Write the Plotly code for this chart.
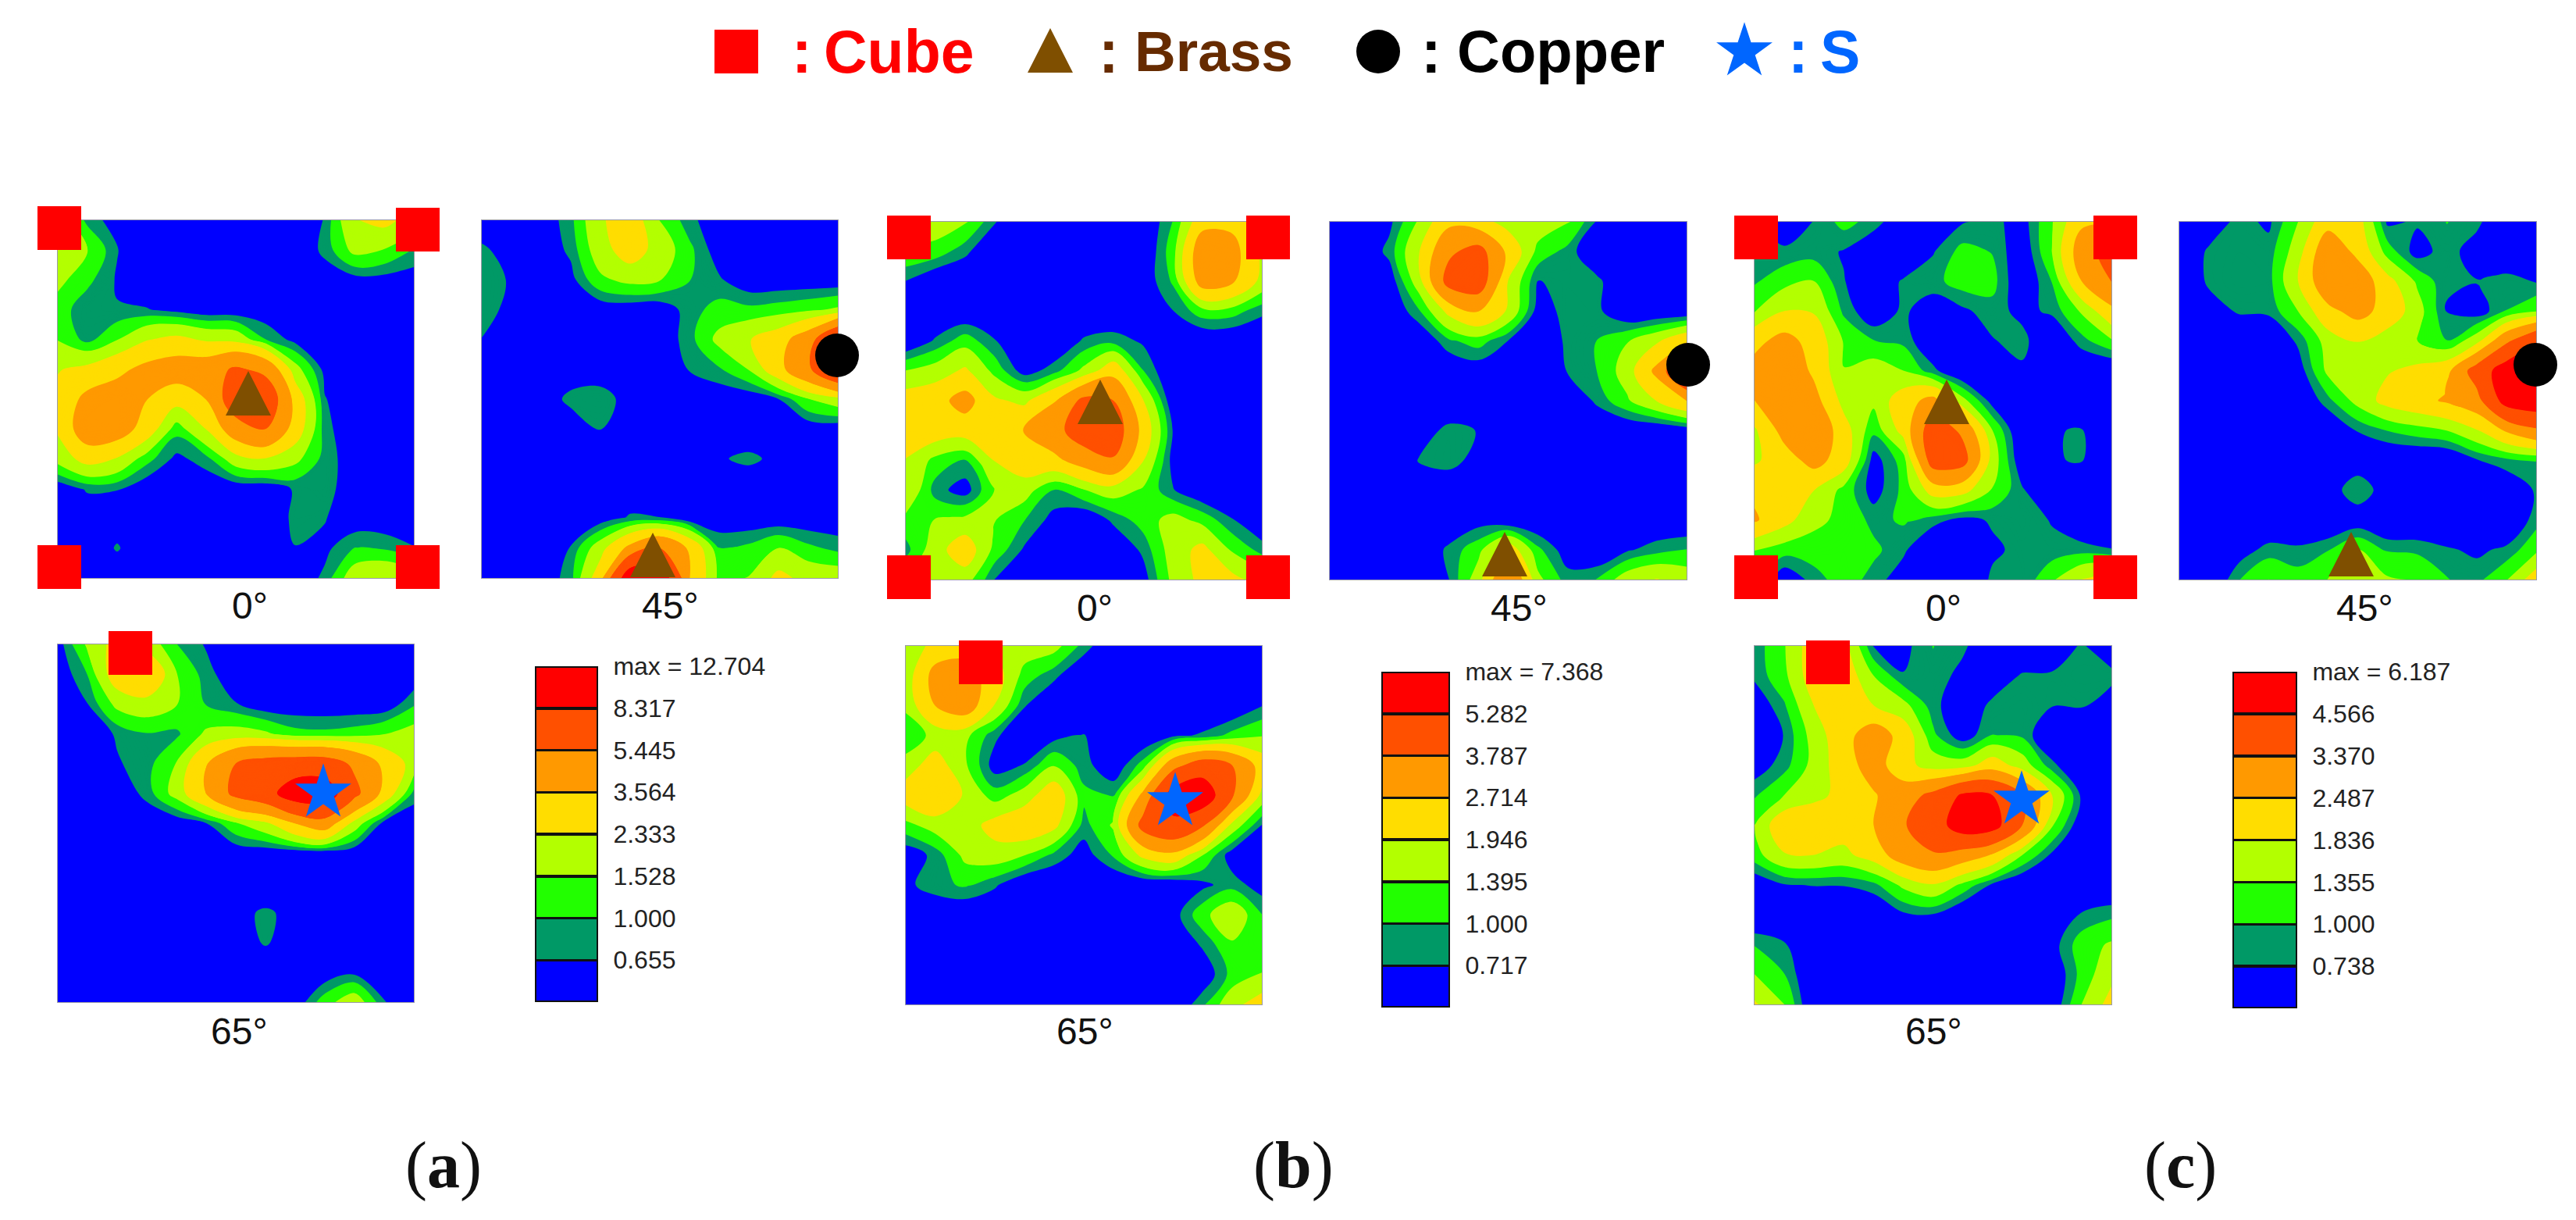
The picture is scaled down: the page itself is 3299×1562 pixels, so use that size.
import numpy as np
import plotly.graph_objects as go

W, H = 3299, 1562

# Band index of the pole-figure value at each grid node (top row first).
# Bands: 0 blue, 1 teal, 2 green, 3 lime, 4 yellow, 5 orange, 6 orange-red, 7 red
A0 = [
[3.5,1.6,0.3,0,0,0,0,0,0,1.0,3.9,4.2,3.5],
[4.0,3.0,1.0,0,0,0,0,0,0,1.2,3.2,2.9,1.8],
[3.2,2.2,0.8,0,0,0,0,0,0,0.3,0.4,0.4,0.3],
[2.4,1.2,1.0,1.0,0.5,0,0,0,0,0,0,0,0],
[2.9,1.5,2.9,3.9,4.2,3.8,3.6,2.0,0.5,0,0,0,0],
[3.9,4.2,4.7,5.2,5.4,5.5,6.1,5.7,3.3,0.5,0,0,0],
[4.2,5.2,5.4,5.0,4.3,5.0,6.5,6.6,4.6,1.0,0,0,0],
[4.1,5.5,5.4,4.5,2.3,4.0,5.5,6.0,4.5,1.3,0,0,0],
[3.3,4.3,3.9,2.3,0.6,1.5,3.5,3.9,3.2,1.5,0.2,0,0],
[0,1.1,1.0,0,0,0,0,0,1.1,1.5,0,0,0],
[0,0,0.3,0,0,0,0,0,1.2,1.0,0,0,0],
[0,0,1.05,0,0,0,0,0.5,0.9,0.6,2,1.8,1],
[0,0,0,0,0,0,0,0,0,1.2,3.5,3.9,3.5],
]
A45 = [
[0,0,0,1.6,3.8,4.5,2.9,1.3,0,0,0,0,0],
[1.2,0.3,0,1.2,3.5,4.4,3.5,2.2,0.2,0,0,0,0],
[1.5,0.8,0,0.5,2.7,3.2,3.0,2.0,1.1,0,0,0,0],
[1.4,0.6,0,0,0,0,0,1.5,2.3,2.2,2.4,2.7,3.1],
[0.9,0,0,0,0,0,0,1.5,3.2,3.9,4.5,5.5,7.0],
[0,0,0,0.3,0.3,0,0,1.0,1.8,3.0,4.6,5.8,7.0],
[0,0,0.3,1.2,1.4,0.5,0,0,0,0,0.9,2.9,3.5],
[0,0,0,0.3,0.95,0,0,0,0,0,0,0,0],
[0,0,0,0,0,0,0,0,0.8,1.2,0.6,0,0],
[0,0,0,0,0,0,0,0,0,0,0,0,0],
[0,0,0,0,0.2,1.1,1.0,0,0,0,0,0,0],
[0,0,0,1.0,3.5,5.2,6.0,4.8,2.0,2.2,3.0,2.2,1.6],
[0,0,0,1.5,4.5,7.5,7.5,5.0,2.6,3.0,4.2,3.6,3.5],
]
A65 = [
[0.3,3.1,4.3,3.5,2.0,0.8,0,0,0,0,0,0,0],
[0,2.0,4.5,5.0,3.0,1.4,0,0,0,0,0,0,0],
[0,0.9,3.2,3.5,3.0,1.9,1.0,0,0,0,0,0,1.8],
[0,0,1.1,1.9,1.7,3.1,3.3,3.1,2.3,2.2,2.4,2.9,3.3],
[0,0,0.8,1.5,3.0,4.9,6.0,6.3,6.4,6.4,5.8,4.7,3.5],
[0,0,0,1.3,3.3,5.0,6.2,6.6,7.4,7.4,6.2,4.6,1.5],
[0,0,0,0,0,0.9,2.8,3.7,5.0,5.5,3.5,0.4,0],
[0,0,0,0,0,0,0,0,0,0,0,0,0],
[0,0,0,0,0,0,0,0,0,0,0,0,0],
[0,0,0,0,0,0,0.6,1.1,0.6,0,0,0,0],
[0,0,0,0,0,0,0.3,1.05,0.3,0,0,0,0],
[0,0,0,0,0,0,0,0,0,0,0.6,0,0],
[0,0,0,0,0,0,0,0,0,2.5,3.5,1.0,0],
]
B0 = [
[3.5,3.5,3.1,1.0,0,0,0,0,0,2.0,4.6,4.7,4.0],
[2.8,2.5,1.2,0,0,0,0,0,0,2.5,5.6,5.3,3.8],
[0.9,0,0,0,0,0,0,0,0.3,2.1,5.4,5.1,3.6],
[0,0,0,0,0,0,0,0,0,0.9,2.5,2.4,1.2],
[0,1.1,2.5,1.0,0,0,1.1,1.5,0.8,0,0,0,0],
[3.0,3.4,4.1,2.6,0.5,1.5,3.2,4.6,2.0,0,0,0,0],
[4.4,4.6,5.3,4.1,3.7,4.9,6.2,6.0,4.0,0.2,0,0,0],
[4.5,4.5,4.4,4.6,5.0,5.6,6.5,6.5,4.6,0.9,0,0,0],
[3.9,2.6,1.9,4.0,4.5,4.7,5.4,5.9,4.0,0.6,0,0,0],
[3.9,1.4,0.5,3.0,3.4,1.8,2.9,3.4,2.8,1.0,0,0,0],
[2.6,3.0,3.2,3.0,2.0,0.6,0,1.2,2.4,3.3,2.6,1.0,0],
[1.5,3.5,4.5,2.6,0.8,0,0,0,1.2,3.4,4.2,2.8,1.5],
[3.0,3.2,3.4,0.9,0,0,0,0,0.5,3.2,4.2,4.2,3.5],
]
B45 = [
[0,0,0.7,3.1,4.7,4.3,3.5,3.5,3.1,0.8,0,0,0],
[0,0,1.3,3.9,5.8,6.3,4.7,2.6,1.5,0,0,0,0],
[0,0,0.3,3.5,6.3,6.5,3.9,0.9,1.2,1.2,0,0,0],
[0,0,0,1.8,4.2,5.0,3.8,0.5,1.3,1.2,0,0,0],
[0,0,0,0,1.7,2.4,0.9,0,1.2,2.0,2.9,3.8,4.8],
[0,0,0,0,0,0.3,0,0,1.0,2.0,3.4,5.2,7.2],
[0,0,0,0,0,0.9,0,0,0,1.2,2.8,4.0,5.0],
[0,0,0.1,0.4,1.3,0.9,0,0,0,0,0,0,0.3],
[0,0,0.3,1.0,1.4,0.6,0,0,0,0,0,0,0],
[0,0,0,0.2,0.2,0,0,0,0,0,0,0,0],
[0,0,0,0,0,0.5,0,0,0,0,0,0,0],
[0,0,0,0,1.2,2.6,4.5,2.2,0.4,0,0.8,1.5,2.0],
[0,0,0,0,0.9,3.5,6.0,3.2,1.4,2.0,3.5,4.0,3.5],
]
B65 = [
[3.0,4.3,4.5,3.8,3.5,3.3,1.5,0,0,0,0,0,0.8],
[3.3,5.3,5.4,4.4,2.5,1.2,0,0,0,0,0,0,0],
[3.2,5.0,5.5,3.9,1.0,0,0,0,0,0,0,0,0.9],
[2.0,3.3,3.2,1.2,0,0.6,1.0,0,0,0.7,1.1,2.3,2.9],
[3.4,4.4,3.1,0.5,1.0,2.9,1.4,0.2,2.4,5.6,6.5,6.0,4.5],
[4.4,4.9,3.8,2.4,3.4,4.6,2.2,1.9,5.2,7.3,7.5,6.1,3.6],
[2.6,3.4,3.4,4.3,4.7,4.2,1.5,3.1,6.3,6.8,6.1,3.6,0.9],
[0.3,1.3,3.2,3.5,3.0,1.6,0.5,2.1,4.2,4.7,3.0,0.4,0],
[0.7,1.6,2.1,1.1,0,0,0,0,0,0,0.7,1.5,0.5],
[0.4,0,0,0,0,0,0,0,0,0.5,2.6,3.7,2.0],
[0,0,0,0,0,0,0,0,0,0,1.1,2.8,2.4],
[0,0,0,0,0,0,0,0,0,0,0.2,2.3,3.0],
[0,0,0,0,0,0,0,0,0,0,1.7,3.6,4.4],
]
C0 = [
[1.2,0.3,1.0,2.3,1.5,0.3,0,0.9,1.3,0.6,2.9,4.8,4.9],
[1.5,1.2,1.4,0.9,0.2,0,0.9,2.3,1.9,0.3,3.0,5.5,6.3],
[1.8,2.6,3.0,1.0,0.3,1.1,1.6,2.4,2.3,0.2,2.0,5.0,6.0],
[2.9,4.0,3.9,1.7,0.3,1.2,0.4,0.8,1.5,0.7,1.2,3.1,4.7],
[4.7,5.3,4.6,2.9,2.0,1.7,0.1,0,0.9,1.4,0,1.5,2.8],
[5.3,5.7,4.8,3.0,3.5,3.0,1.3,0,0.3,0.8,0,0,0],
[5.0,5.8,5.3,3.6,3.2,4.5,5.3,3.3,0.6,0,0,0,0],
[3.8,5.3,5.8,4.4,2.2,4.3,6.5,5.8,3.0,0,0.9,1.04,0],
[3.8,4.5,5.3,4.5,0.6,2.4,6.4,6.3,3.5,0.3,0.9,1.04,0],
[4.8,4.5,4.0,2.6,0.6,2.2,4.4,4.3,2.9,1.1,0,0,0],
[5.1,4.3,3.2,2.7,1.6,2.1,1.4,0.7,1.1,1.6,0.9,0,0],
[3.0,2.4,2.5,2.3,2.2,1.2,0,0,0.8,1.3,1.3,1.5,1.0],
[2.5,0.3,1.4,2.5,1.5,0.5,0,0,1.2,1.1,2.8,4.0,4.5],
]
C45 = [
[0,0.3,1.4,0.8,3.0,4.6,4.4,0.8,1.1,2.0,1.3,0,0],
[0,1.2,1.5,1.4,3.5,5.7,4.7,2.5,0.6,1.5,0.5,0,0],
[0,1.2,1.6,1.5,4.0,5.7,5.6,4.3,2.8,1.1,1.0,1.5,0.9],
[0,0.5,1.1,1.2,3.0,4.7,5.3,4.6,3.4,0.9,0.5,2.0,2.9],
[0,0,0,0,1.2,3.4,4.0,3.4,3.0,2.0,3.6,5.8,6.9],
[0,0,0,0,0.5,3.2,3.6,3.9,4.2,4.7,6.4,7.4,7.7],
[0,0,0,0,0,1.6,3.3,4.3,4.7,5.1,5.6,7.3,7.5],
[0,0,0,0,0,0,1.0,2.0,2.5,3.0,3.9,5.1,5.8],
[0,0,0,0,0,0,0.4,0,0,0,0.9,1.6,2.0],
[0,0,0,0,0,0.5,1.8,0.5,0,0,0,0.2,1.1],
[0,0,0,0,0,0,0.4,0,0,0,0,0,1.5],
[0,0,0.5,1.4,1.2,1.9,3.0,1.8,1.7,1.1,0.8,1.2,2.7],
[0,0,1.9,3.0,2.4,3.0,3.5,3.1,3.0,2.0,1.6,2.9,4.5],
]
C65 = [
[1.3,2.9,4.5,4.3,0.9,0.7,2.0,1.2,0.2,0,0,1.2,0],
[1.2,2.7,4.5,4.6,3.0,1.0,1.6,0.7,0.3,1.1,1.2,1.5,1.5],
[0.3,1.8,4.0,4.6,4.0,3.3,1.4,0.2,1.3,1.6,1.0,1.1,0.3],
[0,1.0,3.4,4.6,5.5,4.6,2.2,0.5,2.0,1.8,0,0,0],
[0.5,1.5,3.3,4.5,5.4,4.3,3.5,3.5,4.5,3.5,1.3,0,0],
[1.8,3.0,3.6,4.3,4.9,5.5,6.2,7.1,7.0,6.0,4.0,0.8,0],
[3.0,4.7,4.9,4.4,5.0,5.9,6.5,7.4,7.3,6.0,3.1,0.3,0],
[2.5,3.9,4.0,3.7,4.4,5.5,5.9,5.5,4.9,3.0,0.8,0,0],
[0.3,0.9,1.0,1.0,1.6,3.2,3.9,2.7,0.8,0,0,0,0],
[0,0,0,0,0,0.8,0.9,0,0,0,0,1.1,1.7],
[1.9,1.1,0,0,0,0,0,0,0,0,0.6,2.5,3.1],
[3.0,2.0,0,0,0,0,0,0,0,0,0.2,2.3,3.7],
[4.1,3.0,0,0,0,0,0,0,0,0,0.3,3.0,4.3],
]

BAND_COLORS = ["#0000ff", "#009966", "#22ff00", "#b3ff00", "#ffdd00", "#ff9900", "#ff5000", "#ff0000"]
LEVELS_A = [0.655, 1.000, 1.528, 2.333, 3.564, 5.445, 8.317, 12.704]
LEVELS_B = [0.717, 1.000, 1.395, 1.946, 2.714, 3.787, 5.282, 7.368]
LEVELS_C = [0.738, 1.000, 1.355, 1.836, 2.487, 3.370, 4.566, 6.187]

# grid, levels, x0, x1, y0, y1, label, label x, label y (page pixels)
PANELS = [
    (A0, LEVELS_A, 74, 530, 282, 740, "0°", 320, 775), (A45, LEVELS_A, 617, 1073, 282, 740, "45°", 858, 775),
    (A65, LEVELS_A, 74, 530, 825, 1283, "65°", 306, 1320),
    (B0, LEVELS_B, 1160, 1616, 284, 742, "0°", 1402, 778), (B45, LEVELS_B, 1703, 2160, 284, 742, "45°", 1945, 778),
    (B65, LEVELS_B, 1160, 1616, 827, 1286, "65°", 1389, 1320),
    (C0, LEVELS_C, 2247, 2704, 284, 742, "0°", 2489, 778), (C45, LEVELS_C, 2791, 3248, 284, 742, "45°", 3028, 778),
    (C65, LEVELS_C, 2247, 2704, 827, 1286, "65°", 2476, 1320),
]
COLORBARS = [
    (LEVELS_A, 685, 766, 853, 1283),
    (LEVELS_B, 1769, 1857, 860, 1290),
    (LEVELS_C, 2859, 2942, 860, 1291),
]
CUBE_X = [76, 535, 76, 535, 167, 1164, 1624, 1164, 1624, 1256, 2249, 2709, 2249, 2709, 2341, 943]
CUBE_Y = [292, 294, 726, 726, 836, 304, 304, 739, 739, 848, 304, 304, 739, 739, 848, 66]
COPPER_X = [1072, 2162, 3247, 1765]
COPPER_Y = [455, 467, 467, 66]
S_X = [414, 1505, 2589, 2234]
S_Y = [1015, 1026, 1024, 66]
BRASS_X = [318, 836, 1409, 1927, 2493, 3011, 1345]
BRASS_Y = [505, 712, 516, 711, 516, 711, 66]
LEGEND_TEXT = [
    (1013, 1054, "Cube", "#ff0000", 77), (1406, 1452, "Brass", "#662b00", 73),
    (1819, 1865, "Copper", "#000000", 76), (2289, 2330, "S", "#0066ff", 77),
]
SUBFIG_LABELS = [(568, "(<b>a</b>)"), (1656, "(<b>b</b>)"), (2792, "(<b>c</b>)")]

fig = go.Figure()
layout = {}
annotations = []
n = 0
gx = np.linspace(0, 1, 13)
gy = np.linspace(1, 0, 13)
FONT = "Liberation Sans, Arial, sans-serif"
STEP = 0.03


def note(x, y, text, size, color, anchor="center", family=FONT):
    annotations.append(dict(x=x / W, y=1 - y / H, xref="paper", yref="paper", text=text,
                            xanchor=anchor, yanchor="middle", showarrow=False, borderpad=0,
                            font=dict(family=family, size=size, color=color)))


def intensity(grid, levels):
    """Band index -> intensity in the units of the panel's own colour key."""
    return np.interp(np.array(grid, dtype=float), np.arange(9), [0.3] + list(levels))


def stepped_scale(levels):
    """Piecewise-constant colour scale; contour levels run from STEP to the key's maximum."""
    top = levels[-1]
    scale = [[0, BAND_COLORS[0]]]
    for k, level in enumerate(levels[:-1]):
        f = (level - STEP) / (top - STEP)
        scale += [[f, BAND_COLORS[k]], [f, BAND_COLORS[k + 1]]]
    scale.append([1, BAND_COLORS[-1]])
    return scale


for grid, levels, x0, x1, y0, y1, label, lx, ly in PANELS:
    n += 1
    s = "" if n == 1 else str(n)
    fig.add_trace(go.Contour(
        x=gx, y=gy, z=intensity(grid, levels), xaxis="x" + s, yaxis="y" + s,
        autocontour=False,
        contours=dict(start=STEP, end=levels[-1], size=STEP, coloring="fill", showlines=False),
        colorscale=stepped_scale(levels), showscale=False, line=dict(width=0), hoverinfo="skip",
    ))
    layout["xaxis" + s] = dict(
        domain=[x0 / W, x1 / W], range=[0, 1], anchor="y" + s, showgrid=False, zeroline=False, automargin=False,
        tickvals=[], showline=True, linecolor="#9a9aa8", linewidth=1, mirror=True, fixedrange=True,
    )
    layout["yaxis" + s] = dict(
        domain=[1 - y1 / H, 1 - y0 / H], range=[0, 1], anchor="x" + s, showgrid=False, zeroline=False, automargin=False,
        tickvals=[], showline=True, linecolor="#9a9aa8", linewidth=1, mirror=True, fixedrange=True,
    )
    note(lx, ly, label, 48, "#111")

for levels, x0, x1, y0, y1 in COLORBARS:
    n += 1
    s = str(n)
    labels = [f"{v:.3f}" for v in levels[:-1]] + [f"max = {levels[-1]:.3f}"]
    fig.add_trace(go.Bar(
        x=["band"] * 8, y=[1] * 8, marker=dict(color=BAND_COLORS, line=dict(color="#111", width=3.5)),
        width=1, xaxis="x" + s, yaxis="y" + s, hoverinfo="skip", showlegend=False,
    ))
    layout["xaxis" + s] = dict(
        domain=[x0 / W, x1 / W], anchor="y" + s, showgrid=False, zeroline=False, tickvals=[],
        showline=False, fixedrange=True, automargin=False,
    )
    layout["yaxis" + s] = dict(
        domain=[1 - y1 / H, 1 - y0 / H], range=[0, 8], anchor="x" + s, side="right", showgrid=False,
        zeroline=False, tickmode="array", tickvals=list(range(1, 9)), ticktext=labels, ticks="outside",
        ticklen=12, tickcolor="rgba(0,0,0,0)", showline=False, fixedrange=True, automargin=False,
        tickfont=dict(family=FONT, size=32, color="#222"),
    )

# overlay axis in page pixels for the orientation symbols
n += 1
s = str(n)
layout["xaxis" + s] = dict(domain=[0, 1], range=[0, W], anchor="y" + s, visible=False, fixedrange=True, automargin=False)
layout["yaxis" + s] = dict(domain=[0, 1], range=[H, 0], anchor="x" + s, visible=False, fixedrange=True, automargin=False)

tx, ty = [], []
for cx, cy in zip(BRASS_X, BRASS_Y):
    tx += [cx, cx + 29, cx - 29, cx, None]
    ty += [cy - 30, cy + 27, cy + 27, cy - 30, None]
fig.add_trace(go.Scatter(x=tx, y=ty, mode="lines", fill="toself", fillcolor="#7f4f00",
                         line=dict(width=0, color="#7f4f00"), xaxis="x" + s, yaxis="y" + s,
                         hoverinfo="skip", showlegend=False))
for xs, ys, sym, size, col in [
    (CUBE_X, CUBE_Y, "square", 56, "#ff0000"),
    (COPPER_X, COPPER_Y, "circle", 56, "#000000"),
    (S_X, S_Y, "star", 54, "#0066ff"),
]:
    fig.add_trace(go.Scatter(x=xs, y=ys, mode="markers", marker=dict(symbol=sym, size=size, color=col, line=dict(width=0)),
                             xaxis="x" + s, yaxis="y" + s, hoverinfo="skip", showlegend=False))

for cx, nx, text, col, size in LEGEND_TEXT:
    note(cx, 66, "<b>:</b>", 77, col, "left")
    note(nx, 66, "<b>" + text + "</b>", size, col, "left")
for x, text in SUBFIG_LABELS:
    note(x, 1492, text, 84, "#111", "center", "Liberation Serif, Times New Roman, serif")

fig.update_layout(width=W, height=H, margin=dict(l=0, r=0, t=0, b=0), paper_bgcolor="white",
                  plot_bgcolor="rgba(0,0,0,0)", showlegend=False, barmode="stack", annotations=annotations, **layout)
fig.write_html("out.html", config=dict(displayModeBar=False),
               post_script="document.body.style.margin='0';document.body.style.overflow='hidden';")
